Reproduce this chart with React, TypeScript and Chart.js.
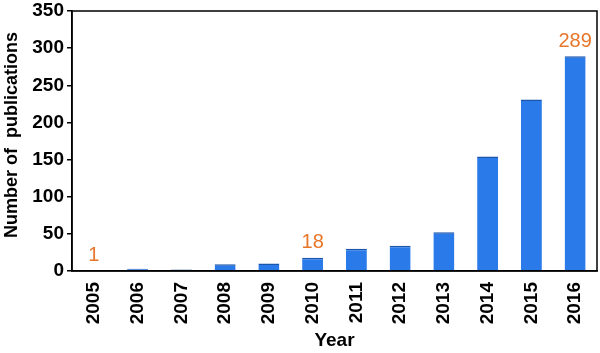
import React, { useEffect, useRef } from "react";
import { Chart, registerables } from "chart.js";

Chart.register(...registerables);

const years = ["2005", "2006", "2007", "2008", "2009", "2010", "2011", "2012", "2013", "2014", "2015", "2016"];
const publications = [1, 3, 2, 9, 10, 18, 30, 34, 52, 154, 231, 289];
const labelledIndices = [0, 5, 11];
const yTicks = [0, 50, 100, 150, 200, 250, 300, 350];
const yTitle = "Number of  publications";

const FONT = "Arial, 'Liberation Sans', sans-serif";

const framePlugin = {
  id: "frame",
  afterDraw(chart: any) {
    const { ctx, chartArea } = chart;
    ctx.save();
    ctx.strokeStyle = "#000";
    ctx.lineWidth = 1.5;
    ctx.strokeRect(chartArea.left, chartArea.top, chartArea.right - chartArea.left, chartArea.bottom - chartArea.top);
    // y axis title, slightly above the plot centre as in the reference
    const cy = (chartArea.top + chartArea.bottom) / 2 - 6;
    ctx.translate(12, cy);
    ctx.rotate(-Math.PI / 2);
    ctx.fillStyle = "#000";
    ctx.font = `bold 18px ${FONT}`;
    ctx.textAlign = "center";
    ctx.textBaseline = "middle";
    ctx.fillText(yTitle, 0, 0);
    ctx.restore();
  },
};

const valueLabelPlugin = {
  id: "valueLabels",
  afterDatasetsDraw(chart: any) {
    const { ctx } = chart;
    const meta = chart.getDatasetMeta(0);
    ctx.save();
    ctx.fillStyle = "#e8762a";
    ctx.font = `20px ${FONT}`;
    ctx.textAlign = "center";
    ctx.textBaseline = "bottom";
    labelledIndices.forEach((i) => {
      const el = meta.data[i];
      ctx.fillText(String(publications[i]), el.x, el.y - 5);
    });
    ctx.restore();
  },
};

export default function App() {
  const ref = useRef<HTMLCanvasElement>(null);
  useEffect(() => {
    document.body.style.margin = "0";
    const chart = new Chart(ref.current as HTMLCanvasElement, {
      type: "bar",
      data: {
        labels: years,
        datasets: [
          {
            data: publications,
            backgroundColor: "#2a7ae9",
            borderColor: "#1c56aa",
            borderWidth: { top: 1.5, left: 0, right: 0, bottom: 0 },
            barPercentage: 0.48,
            categoryPercentage: 1,
          },
        ],
      },
      options: {
        animation: false,
        responsive: false,
        layout: { padding: { top: 11, right: 3, left: 0, bottom: 0 } },
        plugins: { legend: { display: false }, tooltip: { enabled: false } },
        scales: {
          x: {
            afterFit(scale: any) {
              scale.height = 82;
              scale.paddingLeft = 0;
              scale.paddingRight = 0;
            },
            grid: { display: false, drawTicks: false },
            border: { display: true, color: "#000", width: 1.5 },
            ticks: {
              color: "#000",
              font: { family: FONT, size: 19, weight: "bold" },
              minRotation: 90,
              maxRotation: 90,
              padding: 11,
              autoSkip: false,
            },
            title: {
              display: true,
              text: "Year",
              color: "#000",
              font: { family: FONT, size: 19, weight: "bold" },
              padding: { top: 0, bottom: 1 },
            },
          },
          y: {
            min: 0,
            max: 350,
            afterFit(scale: any) {
              scale.width = 72;
              scale.paddingTop = 0;
              scale.paddingBottom = 0;
            },
            afterBuildTicks(scale: any) {
              scale.ticks = yTicks.map((v) => ({ value: v }));
            },
            grid: { display: true, drawOnChartArea: false, drawTicks: true, tickLength: 5, color: "#000", lineWidth: 1.5 },
            border: { display: true, color: "#000", width: 1.5 },
            ticks: {
              color: "#000",
              font: { family: FONT, size: 19, weight: "bold" },
              padding: 3,
            },
            title: { display: false },
          },
        },
      },
      plugins: [framePlugin, valueLabelPlugin],
    } as any);
    return () => chart.destroy();
  }, []);
  return (
    <div style={{ width: 600, height: 353 }}>
      <canvas ref={ref} width={600} height={353} style={{ display: "block" }} />
    </div>
  );
}
